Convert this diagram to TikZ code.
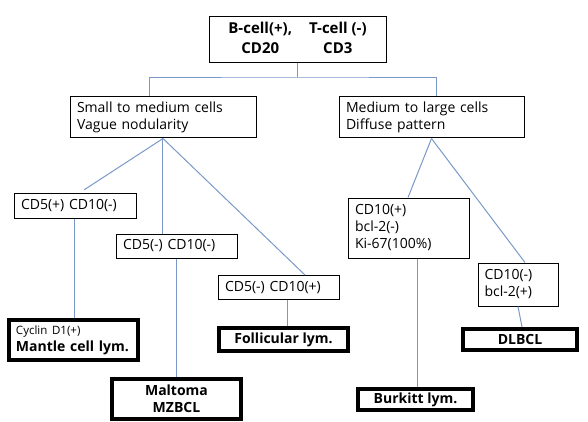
\documentclass[tikz,border=0pt]{standalone}
\usepackage{fontspec}
\setmainfont{Open Sans}
\usetikzlibrary{calc}
\definecolor{connblue}{RGB}{122,153,200}
\tikzset{
  x=1pt, y=-1pt,
  thinbox/.style={draw=black, line width=1pt, inner xsep=6.5pt, inner ysep=0pt, align=left, anchor=center,
    font=\fontsize{14}{17}\selectfont},
  thickbox/.style={draw=black, line width=4pt, inner xsep=6pt, inner ysep=0pt, align=center, anchor=center,
    font=\bfseries\fontsize{14}{17}\selectfont},
  conn/.style={draw=connblue, line width=1pt},
}
\begin{document}
\begin{tikzpicture}
\useasboundingbox (0,0) rectangle (588,422);
% top box
\node[draw=black, line width=1pt, inner sep=0pt, minimum width=177, minimum height=46, anchor=center,
  font=\bfseries\fontsize{15}{20}\selectfont] (top) at (297.5,40)
  {\begin{tabular}{@{}c@{\hspace{17pt}}c@{}}B-cell(+), & T-cell (-)\\[0pt] CD20 & CD3\end{tabular}};
% second level
\node[thinbox, minimum width=186, minimum height=41, text width=172] (small) at (163,117.5)
  {Small to medium cells\\Vague nodularity};
\node[thinbox, minimum width=185, minimum height=41, text width=171] (medium) at (431.5,117.5)
  {Medium to large cells\\Diffuse pattern};
% third level
\node[thinbox, minimum width=122, minimum height=25, text width=108] (cd5p) at (75,205.5) {CD5(+) CD10(-)};
\node[thinbox, minimum width=121, minimum height=24, text width=107] (cd5mm) at (176.5,246) {CD5(-) CD10(-)};
\node[thinbox, minimum width=121, minimum height=24, text width=107] (cd5mp) at (278.5,287.5) {CD5(-) CD10(+)};
\node[thinbox, minimum width=121, minimum height=60, text width=107] (cd10p) at (408.5,228)
  {CD10(+)\\bcl-2(-)\\Ki-67(100\%)};
\node[thinbox, minimum width=80, minimum height=43, text width=67, inner xsep=5.5pt] (cd10m) at (518,284.5)
  {CD10(-)\\bcl-2(+)};
% final boxes
\node[thickbox, align=left, minimum width=129, minimum height=40, text width=115, inner xsep=7pt] (cyclin) at (73.5,340)
  {{\mdseries\fontsize{11.5}{12}\selectfont Cyclin D1(+)}\\[0pt]Mantle cell lym.};
\node[thickbox, minimum width=129, minimum height=23] (foll) at (283.5,339.5) {Follicular lym.};
\node[thickbox, minimum width=129, minimum height=40] (malt) at (176.5,399) {Maltoma\\MZBCL};
\node[thickbox, minimum width=114, minimum height=21] (dlbcl) at (520,339.5) {DLBCL};
\node[thickbox, minimum width=115, minimum height=21] (burk) at (415.5,399.5) {Burkitt lym.};
% connectors
\coordinate (hub) at ($(top.south)+(0,14.5)$);
\draw[conn] (top.south) -- (hub);
\draw[conn] ([xshift=-13.5pt]small.north) |- (hub) -| ([xshift=5pt]medium.north);
\draw[conn, shorten >=5pt] (small.south) -- ([xshift=5pt]cd5p.north);
\draw[conn] ([xshift=-0.5pt]small.south) -- ([xshift=-0.5pt]small.south |- cd5mm.north);
\draw[conn] (small.south) -- ([xshift=26.5pt]cd5mp.north);
\draw[conn] ([xshift=-0.5pt]cd5p.south) -- ([xshift=-0.5pt]cd5p.south |- cyclin.north);
\draw[conn] (cd5mm.south) -- (malt.north);
\draw[conn] ([xshift=9pt]cd5mp.south) -- ([xshift=9pt]cd5mp.south |- foll.north);
\draw[conn] (medium.south) -- ([xshift=-0.5pt]cd10p.north);
\draw[conn] (medium.south) -- ([xshift=7pt]cd10m.north);
\draw[conn] ([xshift=9pt]cd10p.south) -- ([xshift=9pt]cd10p.south |- burk.north);
\draw[conn] (cd10m.south) -- ([xshift=2pt]dlbcl.north);
\end{tikzpicture}
\end{document}
